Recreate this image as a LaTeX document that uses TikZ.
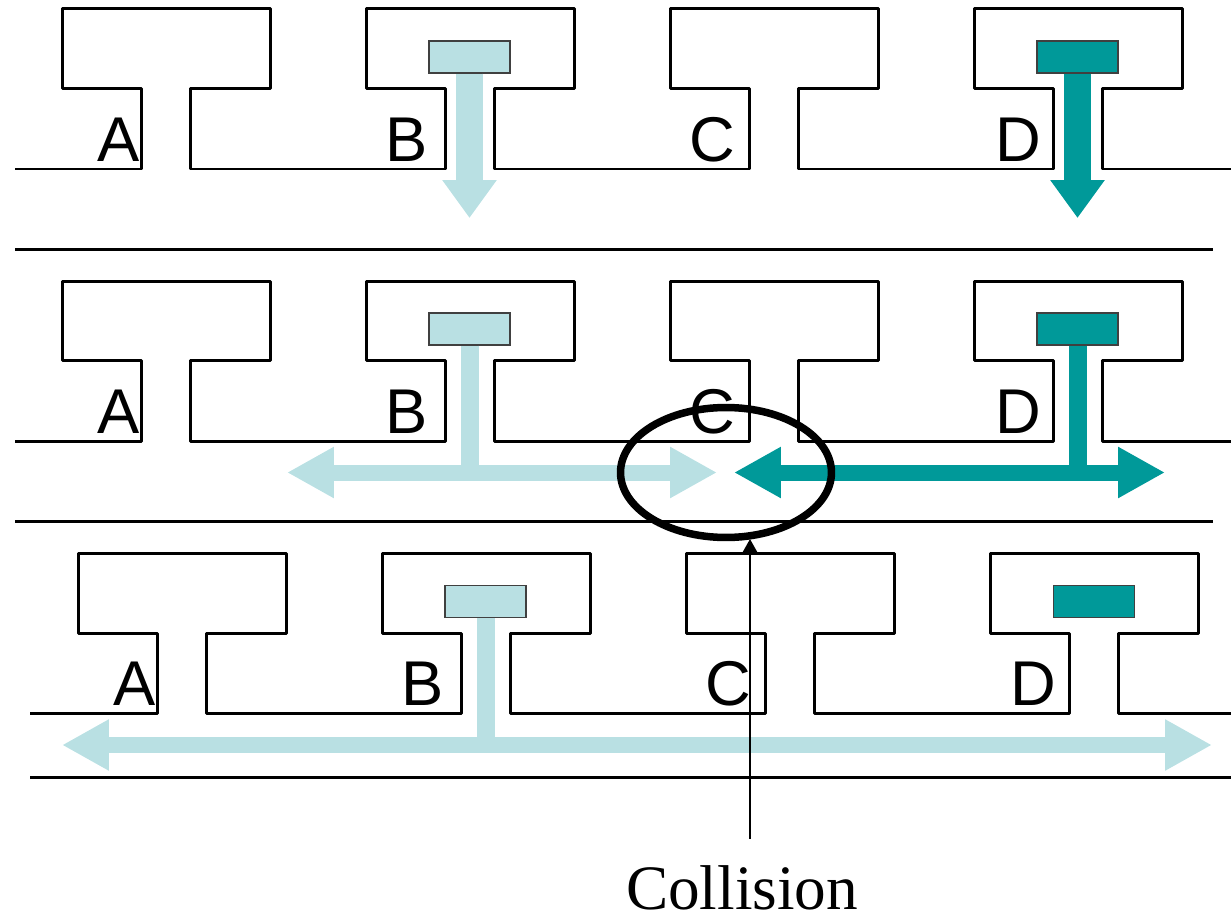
\documentclass[tikz,border=0pt]{standalone}
\usepackage{fontspec}
\setmainfont{Liberation Serif}
\newfontfamily\letterfont{Liberation Sans}
\usetikzlibrary{calc, arrows.meta, shapes.geometric}

\definecolor{chiaro}{HTML}{B9E0E3}
\definecolor{scuro}{HTML}{009999}

\tikzset{
	sagoma/.style={line width=0.06cm, line join=round},
	linea/.style={line width=0.06cm},
	pacchetto/.style={draw=black!75, line width=0.03cm, minimum width=1.62cm, minimum height=0.64cm, inner sep=0pt},
	lettera/.style={font=\letterfont\fontsize{36}{40}\selectfont, anchor=base, inner sep=0pt},
	discesa/.style={line width=0.54cm, -{Triangle[length=0.76cm, width=1.04cm]}},
	gambo/.style={line width=0.36cm},
	segnale/.style={line width=0.32cm, {Triangle[length=0.94cm, width=0.96cm]}-{Triangle[length=0.94cm, width=0.96cm]}}
}

\begin{document}
\begin{tikzpicture}[x=0.02cm, y=-0.02cm]
			\useasboundingbox (0,0) rectangle (1231,919);
			
			% Fila 1: stazioni sul bus (bordo superiore) e bordo inferiore
			\draw[sagoma] (15,169) \foreach \L in {62,366,670,974} { -- (\L+79,169) -- (\L+79,89) -- (\L,89) -- (\L,9) -- (\L+208,9) -- (\L+208,89) -- (\L+128,89) -- (\L+128,169) } -- (1231,169);
			\draw[linea] (15,249) -- (1213,249);
			
			% Fila 2
			\draw[sagoma] (15,441) \foreach \L in {62,366,670,974} { -- (\L+79,441) -- (\L+79,360) -- (\L,360) -- (\L,281) -- (\L+208,281) -- (\L+208,360) -- (\L+128,360) -- (\L+128,441) } -- (1231,441);
			\draw[linea] (15,521) -- (1213,521);
			
			% Fila 3
			\draw[sagoma] (30,713) \foreach \L in {78,382,686,990} { -- (\L+79,713) -- (\L+79,633) -- (\L,633) -- (\L,553) -- (\L+208,553) -- (\L+208,633) -- (\L+128,633) -- (\L+128,713) } -- (1231,713);
			\draw[linea] (30,777) -- (1231,777);
			
			% Nomi delle stazioni
			\foreach \L/\n/\dx in {62/A/56.5, 366/B/41, 670/C/42, 974/D/44} {
				\node[lettera] (l\n1) at (\L+\dx,161) {\n};
				\node[lettera] (l\n2) at (\L+\dx,433) {\n};
			}
			\foreach \L/\n/\dx in {78/A/56.5, 382/B/41, 686/C/42, 990/D/43.5}
				\node[lettera] (l\n3) at (\L+\dx,705) {\n};
			
			% Pacchetti pronti nelle stazioni B e D
			\node[pacchetto, fill=chiaro] (pB1) at (469.5,57) {};
			\node[pacchetto, fill=scuro] (pD1) at (1077.5,57) {};
			\node[pacchetto, fill=chiaro] (pB2) at (469.5,329) {};
			\node[pacchetto, fill=scuro] (pD2) at (1077.5,329) {};
			\node[pacchetto, fill=chiaro] (pB3) at (485.5,601.5) {};
			\node[pacchetto, fill=scuro] (pD3) at (1094,601.5) {};
			
			% Punti di arrivo dei segnali
			\coordinate (fB1) at (469.5,218);
			\coordinate (fD1) at (1077.5,218);
			\coordinate (jB2) at (469.5,472.5);
			\coordinate (sB2) at (287,472.5);
			\coordinate (dB2) at (717,472.5);
			\coordinate (jD2) at (1077.5,472.5);
			\coordinate (sD2) at (734,472.5);
			\coordinate (dD2) at (1165,472.5);
			\coordinate (jB3) at (485.5,745);
			\coordinate (sB3) at (62,745);
			\coordinate (dB3) at (1212,745);
			
			% Fila 1: i segnali scendono verso il bus
			\draw[discesa, chiaro] (pB1.south) -- (fB1);
			\draw[discesa, scuro] (pD1.south) -- (fD1);
			
			% Fila 2: i segnali si propagano nei due versi
			\draw[gambo, chiaro] (pB2.south) -- (jB2);
			\draw[segnale, chiaro] (sB2) -- (dB2);
			\draw[gambo, scuro] (pD2.south) -- (jD2);
			\draw[segnale, scuro] (sD2) -- (dD2);
			
			% Fila 3: solo B occupa il bus
			\draw[gambo, chiaro] (pB3.south) -- (jB3);
			\draw[segnale, chiaro] (sB3) -- (dB3);
			
			% Ellisse della collisione con la sua etichetta
			\node[draw, ellipse, line width=0.15cm, minimum width=4.22cm, minimum height=2.6cm, inner sep=0pt] (urto) at (726,472.5) {};
			\coordinate (punta) at (750,539);
			\node[font=\fontsize{36}{40}\selectfont, anchor=base, inner sep=0pt] (etichetta) at (742,909) {Collision};
			\draw[line width=0.04cm, -{Triangle[length=0.26cm, width=0.28cm]}] ($(etichetta.north -| punta)+(0,-26)$) -- (punta);
		\end{tikzpicture}
\end{document}
